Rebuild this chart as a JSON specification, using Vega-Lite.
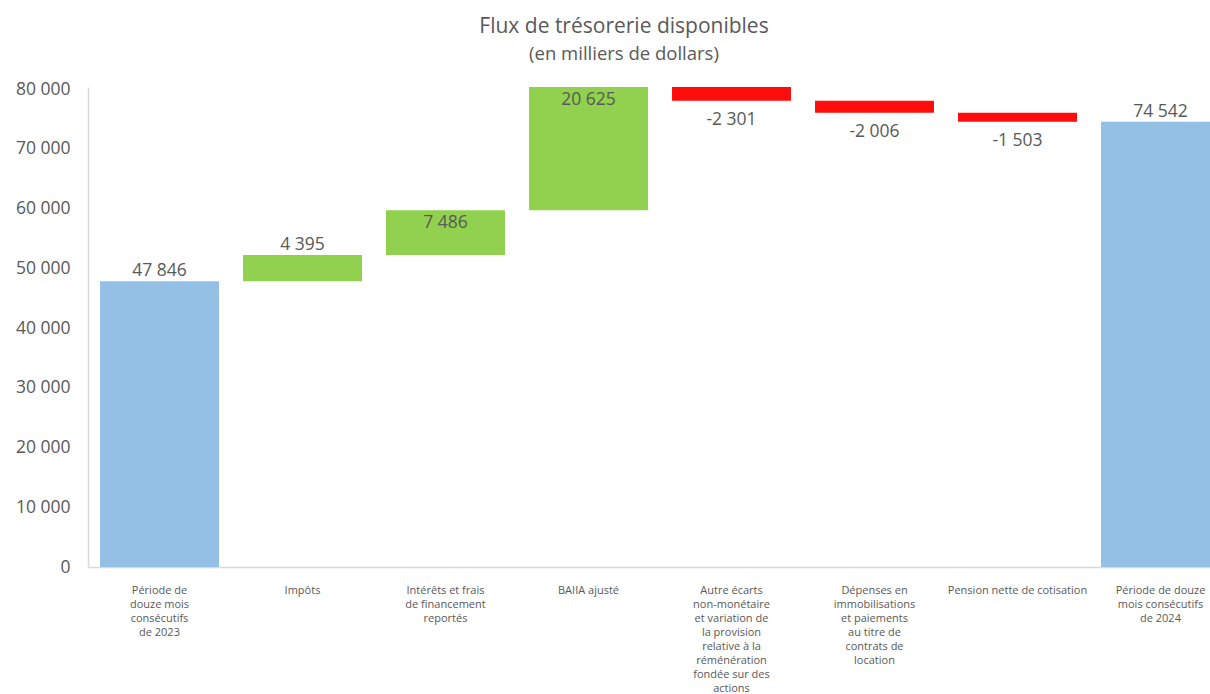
{
  "$schema": "https://vega.github.io/schema/vega-lite/v6.json",
  "width": 1122,
  "height": 480,
  "autosize": {"type": "none"},
  "padding": {"left": 88, "top": 87, "right": 0, "bottom": 127},
  "title": {
    "text": "Flux de trésorerie disponibles",
    "subtitle": "(en milliers de dollars)",
    "anchor": "middle",
    "dx": -25,
    "offset": 17,
    "font": "Open Sans",
    "fontSize": 21,
    "fontWeight": "normal",
    "color": "#595959",
    "subtitleFont": "Open Sans",
    "subtitleFontSize": 18.5,
    "subtitleColor": "#595959",
    "subtitlePadding": 8
  },
  "data": {
    "values": [
      {"cat": "Période de|douze mois|consécutifs|de 2023", "start": 0, "end": 47846, "value": 47846, "type": "total"},
      {"cat": "Impôts", "start": 47846, "end": 52241, "value": 4395, "type": "increase"},
      {"cat": "Intérêts et frais|de financement|reportés", "start": 52241, "end": 59727, "value": 7486, "type": "increase"},
      {"cat": "BAIIA ajusté", "start": 59727, "end": 80352, "value": 20625, "type": "increase"},
      {"cat": "Autre écarts|non-monétaire|et variation de|la provision|relative à la|réménération|fondée sur des|actions", "start": 80352, "end": 78051, "value": -2301, "type": "decrease"},
      {"cat": "Dépenses en|immobilisations|et paiements|au titre de|contrats de|location", "start": 78051, "end": 76045, "value": -2006, "type": "decrease"},
      {"cat": "Pension nette de cotisation", "start": 76045, "end": 74542, "value": -1503, "type": "decrease"},
      {"cat": "Période de douze|mois consécutifs|de 2024", "start": 0, "end": 74542, "value": 74542, "type": "total"}
    ]
  },
  "encoding": {
    "x": {
      "field": "cat",
      "type": "nominal",
      "sort": null,
      "scale": {"range": [0, 1144], "paddingInner": 0.168, "paddingOuter": 0.084},
      "axis": {
        "title": null,
        "labelAngle": 0,
        "labelExpr": "split(datum.value, '|')",
        "labelFont": "Open Sans",
        "labelFontSize": 11,
        "labelColor": "#595959",
        "labelLineHeight": 14,
        "labelBaseline": "top",
        "labelPadding": 17,
        "labelLimit": 0,
        "ticks": false,
        "domainColor": "#d9d9d9",
        "domainWidth": 1.5
      }
    }
  },
  "layer": [
    {
      "mark": {"type": "bar"},
      "encoding": {
        "y": {
          "field": "start",
          "type": "quantitative",
          "scale": {"domain": [0, 80352], "nice": false, "zero": true},
          "axis": {
            "title": null,
            "values": [0, 10000, 20000, 30000, 40000, 50000, 60000, 70000, 80000],
            "format": ",d",
            "grid": false,
            "ticks": false,
            "labelFont": "Open Sans",
            "labelFontSize": 17.5,
            "labelColor": "#595959",
            "labelPadding": 18,
            "domainColor": "#d9d9d9",
            "domainWidth": 1.5
          }
        },
        "y2": {"field": "end"},
        "color": {
          "field": "type",
          "type": "nominal",
          "scale": {"domain": ["total", "increase", "decrease"], "range": ["#95C0E6", "#92D050", "#FF0D0D"]},
          "legend": null
        }
      }
    },
    {
      "transform": [{"filter": {"field": "cat", "oneOf": ["Période de|douze mois|consécutifs|de 2023", "Impôts", "Période de douze|mois consécutifs|de 2024"]}}],
      "mark": {"type": "text", "baseline": "bottom", "dy": -1, "font": "Open Sans", "fontSize": 17.5, "color": "#595959"},
      "encoding": {
        "y": {"field": "end", "type": "quantitative"},
        "text": {"field": "value", "type": "quantitative", "format": ",d"}
      }
    },
    {
      "transform": [{"filter": {"field": "cat", "oneOf": ["Intérêts et frais|de financement|reportés", "BAIIA ajusté"]}}],
      "mark": {"type": "text", "baseline": "top", "dy": 4, "font": "Open Sans", "fontSize": 17.5, "color": "#595959"},
      "encoding": {
        "y": {"field": "end", "type": "quantitative"},
        "text": {"field": "value", "type": "quantitative", "format": ",d"}
      }
    },
    {
      "transform": [{"filter": "datum.type == 'decrease'"}],
      "mark": {"type": "text", "baseline": "top", "dy": 10, "font": "Open Sans", "fontSize": 17.5, "color": "#595959"},
      "encoding": {
        "y": {"field": "end", "type": "quantitative"},
        "text": {"field": "value", "type": "quantitative", "format": ",d"}
      }
    }
  ],
  "config": {
    "view": {"stroke": null},
    "locale": {
      "number": {"decimal": ",", "thousands": " ", "grouping": [3], "currency": ["", " $"], "minus": "-"}
    }
  }
}
